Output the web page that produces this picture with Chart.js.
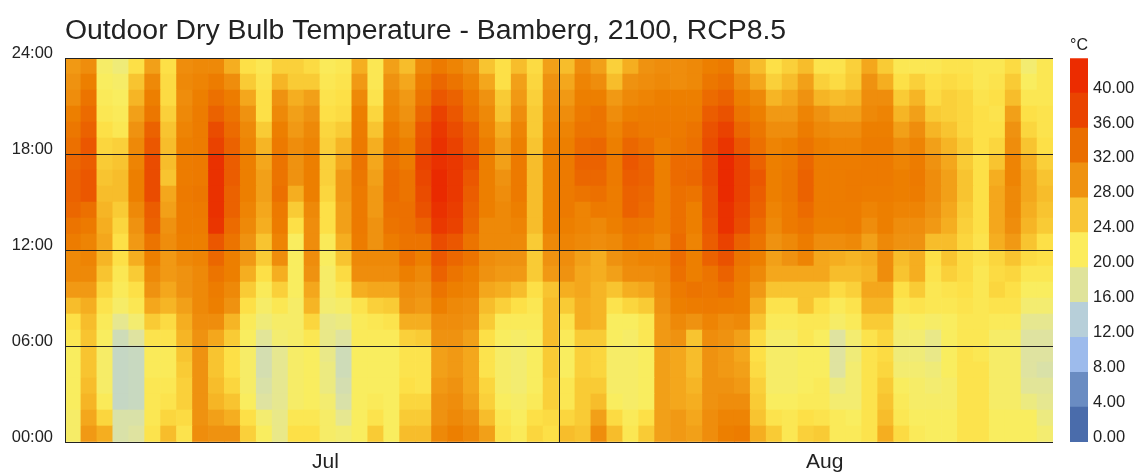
<!DOCTYPE html>
<html><head><meta charset="utf-8">
<style>html,body{margin:0;padding:0;background:#fff;overflow:hidden}canvas{position:absolute;top:0}#heat{left:0}#bar{left:1060px}</style>
<script src="https://cdn.jsdelivr.net/npm/chart.js@4"></script>
</head><body>
<canvas id="heat" width="1060" height="472"></canvas>
<canvas id="bar" width="76" height="472"></canvas>
<script>
// Each day lists hourly temperature (deg C) from 23:00 down to 00:00.
const jul01=[28.5,29,29.5,31,32.5,33.5,34.5,35,35,34.5,33,31.5,30,30,28.5,26,23,22,21,21,21,21,20.5,20.5];
const jul02=[29.5,31,33,34,35,36,35.5,36,36,33.5,32,30.5,30.5,30,28.5,27,26,25.5,25.5,25.5,26,26.5,27.5,28.5];
const jul03=[20.5,21,21.5,22,23,24,25,25.5,26,26.5,27,27.5,26.5,25.5,24,22.5,21.5,21,20.5,20.5,20.5,21.5,24,27];
const jul04=[19.5,20.5,21,21.5,22,24.5,25.5,26,26,25,24,23,23,22,21.5,20.5,18,15.5,14.5,14.5,14.5,14.5,16.5,16.5];
const jul05=[23,25.5,26.5,28,29,30,30.5,31,31,30,29,28.5,27,25,23,22,20,17,15,15,15,15,16.5,17];
const jul06=[28,30,31,32.5,35,36,37,37,37,35.5,35,33,31,30,29,27.5,25,22.5,21.5,21.5,22,22,22,22.5];
const jul07=[23,23.5,23.5,24.5,25.5,26,26,25.5,27.5,28,29,29.5,28.5,28.5,27.5,26.5,23.5,22.5,21.5,21.5,22,22.5,24,26];
const jul08=[29.5,30,29.5,30,30.5,31,31.5,31.5,32,31.5,31.5,31,30,29,29,28,27,26.5,25.5,25,24.5,24.5,23.5,22.5];
const jul09=[30,30.5,31,31.5,31.5,31.5,32,32,32.5,32,31.5,31,30.5,30,30,30,29.5,29,29,29,29,29,29,29.5];
const jul10=[30,31.5,33.5,35,37,38,40,40,40,40,39.5,36,34.5,33,31.5,31,29.5,27.5,25.5,25.5,26,26.5,28,29];
const jul11=[27,29.5,31.5,33,34,35,35.5,35.5,35,35,34,33,31,31,30,29,26.5,25,23,23,24,25.5,27,29];
const jul12=[23,25,27.5,29,30,30.5,31,31,31,30.5,30,29,28.5,27,25,23,21.5,21,20.5,20.5,20.5,21,23,24.5];
const jul13=[22,22.5,23,23,25,26.5,27.5,28,28,27.5,27,25.5,25,23,21.5,20.5,19.5,17.5,16,16,16.5,17,20,21];
const jul14=[24.5,26.5,29,30,31,32,33,33,33.5,32,31.5,30.5,29.5,27,24.5,22,20.5,20,18,18,18,18,18.5,18.5];
const jul15=[24.5,25,27,28,28.5,29.5,29,29,27,25,23,21,21,21,21,20.5,20.5,20.5,20.5,20.5,20.5,20.5,22,23];
const jul16=[23.5,25,28,29,30,30.5,31,31,31,30,29.5,29.5,29.5,29,27.5,26.5,24,22,21,21,21,21,22,23];
const jul17=[21.5,22,22.5,23,24,24.5,24.5,24.5,24,23,23,21.5,21,20.5,20.5,20,18.5,18.5,18.5,19,19,20,20.5,20.5];
const jul18=[22,22.5,23,23.5,25,26.5,27.5,28.5,28.5,28,28,27,25.5,23.5,22,20.5,19,17,15.5,15.5,16,16.5,18,20];
const jul19=[27,28.5,30,31,31.5,32,33,32.5,32,32,32,31.5,30,29.5,27,22.5,21.5,21.5,21,21,21,21,21,21];
const jul20=[22,22,22.5,24,25.5,27,27.5,28,28.5,28.5,29,29,30,29.5,27.5,24.5,22,21.5,21,21,21,21.5,22.5,25];
const jul21=[28,29,30,30.5,32,33,33.5,34,34,33.5,33,31.5,30,29.5,27.5,25,22.5,21.5,21,21,21,21,21,21];
const jul22=[26,27.5,28.5,29,30,31,31.5,33,33,33.5,33.5,33,33.5,31,29.5,29,27,24.5,22.5,22.5,23,24,25,26];
const jul23=[30,31.5,33,34.5,36,36.5,38,37.5,37,36.5,35,33,31,30,29,28.5,27,25,22.5,22.5,22.5,24,25,26];
const jul24=[32,34.5,36,38,39,40,40,41,41,40,39,37,36,35,33,31,29.5,29,28,28,28.5,29,29,30];
const jul25=[30.5,33,35,36,37,38,39,39,39,38.5,38,36,34.5,33,31,30,29.5,29,28.5,28.5,29,29.5,30,31];
const jul26=[29,30.5,32,33,35,35.5,37,36,35.5,35,34.5,33,33,31,30.5,29.5,29,28,27.5,27.5,27.5,28,29,30];
const jul27=[25.5,27.5,29,30,30.5,31.5,31,31,31,31,30,30,29.5,29,27.5,26,25,23,22.5,22.5,24,24.5,26,28];
const jul28=[23,23,25,25.5,27,28,28,29,29.5,30,30,30,29,28.5,27,24.5,21.5,21,20.5,20.5,20.5,21,22,22.5];
const jul29=[26,28,28.5,29.5,30.5,31,32,32,32,31,30.5,30,29,28.5,26,23,21.5,20.5,20,20,20,20.5,21,21.5];
const jul30=[23.5,24,24.5,25,25,25.5,26,26,26,26,26,25,25,25,23,22,21.5,21,21,21,21,21.5,23,24];
const jul31=[28,29,29.5,30,30.5,31,31,31,31,31,31,30,29,28.5,25.5,26,26,26,25,25,24.5,24.5,23.5,23];
const aug01=[26,27.5,28.5,29.5,30.5,31,32,32,32,32,31,30.5,29.5,29,27,25,22.5,21.5,21,21,22,22,24,26];
const aug02=[29.5,30.5,31,32,33,34,35,34.5,33,30.5,30.5,30,28,27.5,27.5,27,27,25,24.5,24.5,25,25,25,25.5];
const aug03=[28,29.5,31,33,33,34.5,35,34.5,33.5,32,30,29.5,27,27,26.5,26.5,26.5,25,24,24,25,26,28,29.5];
const aug04=[24.5,26,28.5,29.5,30.5,31,32,32,31.5,31.5,31,30,29,28,25.5,22.5,21,21,20.5,20.5,20.5,21,23.5,26];
const aug05=[27,29,30,31,33,34.5,36,35.5,35,35,33,32,30,29.5,27,24,21,20.5,20.5,20.5,20.5,20.5,21.5,22];
const aug06=[29,29.5,30.5,31.5,32,33.5,35,35,34.5,34,32.5,31,30.5,29.5,27.5,25,22,22,21,21,21,21,23,25];
const aug07=[29.5,30,31,31.5,32,31,31,31,31,31,31,30,30.5,30,29.5,29,28.5,28.5,28,28,28,28,28,28];
const aug08=[29.5,29.5,31,31.5,32,32.5,34,34,33.5,33.5,33.5,34,34,33.5,32,31,30,29,27.5,27.5,27.5,27.5,28.5,28.5];
const aug09=[30,30,31,31.5,33,33.5,34,34.5,33,31,31,30.5,31,31,33,31.5,29,25.5,26,26,26.5,27,27.5,28];
const aug10=[31,32.5,34,35.5,36.5,37,37,37,36.5,36.5,36,35.5,35,33,32.5,32,30.5,29.5,29,29,29,29,29.5,29.5];
const aug11=[32,33.5,35,36.5,38,39.5,41,41,41,40,40,38,36.5,35,33.5,31.5,29.5,29,28.5,28.5,29,29.5,30.5,31];
const aug12=[28,29.5,31,33,34.5,36,38,38,38,37.5,37,35,33,32,31,31,30,28,27.5,28,28.5,29.5,30.5,31.5];
const aug13=[26,27.5,30,31,32.5,33.5,35,36,35.5,35,34,33,31,30,28.5,27,25.5,23.5,23,23.5,24.5,25,25.5,27];
const aug14=[23,24.5,26.5,28.5,29.5,30.5,31,31,31,30.5,30,29,28,27.5,25.5,22.5,21.5,20.5,20.5,20.5,20.5,21,22.5,25];
const aug15=[24.5,26,27.5,28.5,29.5,31,32,32.5,32.5,32,32,30,29,27.5,25.5,22.5,21.5,20.5,20.5,20.5,20.5,21,22,22];
const aug16=[26,28,29,30.5,31.5,33,34.5,35,35,34,33,31.5,30.5,27.5,25.5,25.5,22,22,21,21,21,21.5,23,24.5];
const aug17=[22.5,24.5,26.5,29,30,31,31.5,31.5,31.5,31.5,31,29.5,27.5,27.5,25.5,23,22,21,21,21,21.5,21.5,22.5,25];
const aug18=[22.5,23.5,26,28,29.5,30.5,31.5,31.5,31.5,31.5,31,29.5,27,26,23.5,21.5,20.5,17,17,17,19,20,21.5,21.5];
const aug19=[24.5,25,26.5,28,29.5,30.5,31.5,32,32,31.5,31.5,30,26.5,26,24.5,22.5,21.5,20,19.5,20,20,20,21,21.5];
const aug20=[27.5,29,29.5,30,31,31.5,32,32,31.5,30.5,29.5,28,27,26.5,27.5,26.5,25,22.5,22.5,22.5,22.5,22.5,22.5,22.5];
const aug21=[25,27,29.5,30.5,31,31.5,32,32,31.5,31,31,30,29.5,29.5,27.5,26.5,25,24,23.5,24,25,25.5,26,27];
const aug22=[22,23,25,26.5,28,29.5,30.5,31,31,30.5,29.5,29,26,25.5,23,22,20.5,20,19.5,20,21,21.5,22,23.5];
const aug23=[22,24.5,26.5,28,29.5,30.5,31.5,32,31.5,30.5,29.5,29,27,27,25,22.5,21,20,19.5,20,20.5,20.5,21,21.5];
const aug24=[22,23,23.5,25,26.5,28,29,29.5,29.5,29,28.5,26,23,22.5,22,22,20.5,18.5,18.5,19.5,20,20.5,21,21];
const aug25=[22.5,23.5,24.5,24.5,25.5,26.5,27.5,28,28,27.5,27,26,25.5,24.5,22.5,22,21,21,21,21,20.5,20.5,21,21];
const aug26=[22.5,23,24,24,24,25,25,25.5,25.5,25,24.5,24,23.5,23.5,23,22.5,22,22,22.5,22.5,22.5,22.5,22.5,22.5];
const aug27=[22,22,22.5,23,23,23,23,23,23,23,23,22.5,22.5,22,22,22,22,22,22,22.5,22.5,22.5,22.5,22.5];
const aug28=[22,22.5,23,22.5,23,24,25.5,27,27.5,27.5,27.5,27,24,23.5,24,22.5,21.5,20.5,20.5,20.5,20.5,20.5,21,21];
const aug29=[23.5,25,26,28,29,29.5,30.5,30.5,30,30,29.5,28.5,25.5,24,23,22.5,21.5,20.5,20.5,20.5,20.5,20.5,21,21];
const aug30=[20,21,22,23,24,25.5,27,27.5,27.5,27,26.5,25.5,23.5,22,21,20,18,17,17,17,17.5,19,21,21];
const aug31=[22,22,22,22.5,22.5,23,24.5,25.5,26,25.5,25,23,23,22,21,20,18,17,17,16.5,17.5,18,19,20];
const days=[jul01,jul02,jul03,jul04,jul05,jul06,jul07,jul08,jul09,jul10,jul11,jul12,jul13,jul14,jul15,jul16,jul17,jul18,jul19,jul20,jul21,jul22,jul23,jul24,jul25,jul26,jul27,jul28,jul29,jul30,jul31,
aug01,aug02,aug03,aug04,aug05,aug06,aug07,aug08,aug09,aug10,aug11,aug12,aug13,aug14,aug15,aug16,aug17,aug18,aug19,aug20,aug21,aug22,aug23,aug24,aug25,aug26,aug27,aug28,aug29,aug30,aug31];
const dayLabels=days.map((_,i)=>i===15?'Jul':i===46?'Aug':'');
const hourTicks=['00:00','06:00','12:00','18:00','24:00'];
const legendEdges=[0,4,8,12,16,20,24,28,32,36,40];
const legendColors=['#4a6cab','#6a8cc2','#9dbbec','#b7cfd9','#dfe39a','#fcec5c','#f8c535','#ef9210','#ea6e00','#ea4400','#ec2c00'];
const rampTemps=[12,15,17,19,21,23,25,27,29,31,33,35,37,39,41];
const rampColors=['#b8cfd8','#c8d9c0','#dfe3a0','#ecea80','#f9ed5f','#fde047','#f9cb35','#f5ae20','#ef9210','#ed7f00','#ec7400','#eb6200','#ea4c00','#ea3800','#ea2a00'];

const rgb=h=>[1,3,5].map(i=>parseInt(h.slice(i,i+2),16));
function colorFor(t){
  let i=0; while(i<rampTemps.length-2&&t>rampTemps[i+1])i++;
  const f=Math.min(1,Math.max(0,(t-rampTemps[i])/(rampTemps[i+1]-rampTemps[i])));
  const a=rgb(rampColors[i]),b=rgb(rampColors[i+1]);
  return 'rgb('+a.map((v,k)=>Math.round(v+(b[k]-v)*f)).join(',')+')';
}
const FONT='"Liberation Sans",Arial,sans-serif', INK='#222';
const hours=Array.from({length:24},(_,h)=>h);
new Chart(document.getElementById('heat'),{
  type:'bar',
  data:{labels:dayLabels,datasets:hours.map(h=>({
    label:String(h),
    data:days.map(()=>[h,h+1]),
    backgroundColor:days.map(d=>colorFor(d[23-h])),
    borderWidth:0,barPercentage:1,categoryPercentage:1,grouped:false
  }))},
  options:{responsive:false,animation:false,
    layout:{padding:{left:0,right:7,top:0,bottom:0}},
    plugins:{legend:{display:false},tooltip:{enabled:false},
      title:{display:true,text:'Outdoor Dry Bulb Temperature - Bamberg, 2100, RCP8.5',align:'start',fullSize:false,color:INK,
        font:{family:FONT,size:28.4,weight:'normal'},padding:{top:14,bottom:10}}},
    scales:{
      x:{type:'category',offset:true,
        grid:{offset:true,z:1,drawTicks:false,lineWidth:1,color:c=>(c.index===0||c.index===31||c.index===62)?'#222':'rgba(0,0,0,0)'},
        border:{display:false},
        afterFit:s=>{s.height=30},
        ticks:{autoSkip:false,maxRotation:0,minRotation:0,align:'start',padding:8,color:INK,font:{family:FONT,size:21},callback:(v,i)=>dayLabels[i]}},
      y:{type:'linear',min:0,max:24,
        grid:{z:1,drawTicks:false,lineWidth:1,color:'#222'},
        border:{display:false},
        afterFit:s=>{s.width=65},
        ticks:{stepSize:6,labelOffset:-5,padding:12,color:INK,font:{family:FONT,size:16.5},callback:(v)=>hourTicks[v/6]}}
    }
  }
});
new Chart(document.getElementById('bar'),{
  type:'bar',
  data:{labels:['T'],datasets:legendEdges.map((e,i)=>({
    label:String(e),data:[[e,e+4]],backgroundColor:legendColors[i],borderWidth:0,barPercentage:1,categoryPercentage:1,grouped:false}))},
  options:{responsive:false,animation:false,
    layout:{padding:{left:10,right:0,top:0,bottom:0}},
    plugins:{legend:{display:false},tooltip:{enabled:false},
      title:{display:true,text:'°C',align:'start',fullSize:false,color:INK,font:{family:FONT,size:16,weight:'normal'},padding:{top:36,bottom:3}}},
    scales:{
      x:{display:false,afterFit:s=>{s.height=30}},
      y:{type:'linear',position:'right',min:0,max:44,grid:{display:false,drawTicks:false},border:{display:false},
        afterFit:s=>{s.width=48},
        ticks:{stepSize:4,labelOffset:-5,padding:5,color:INK,font:{family:FONT,size:16.5},callback:v=>v<=40?v.toFixed(2):null}}
    }
  }
});
</script>
</body></html>
